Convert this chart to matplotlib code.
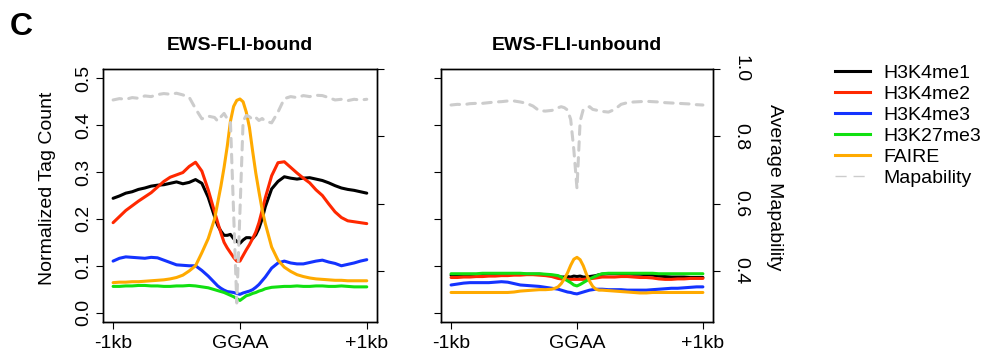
import matplotlib
matplotlib.use("Agg")
import matplotlib.pyplot as plt
from matplotlib.lines import Line2D

plt.rcParams['font.family'] = ['Liberation Sans', 'DejaVu Sans']

# 태그 위치 (GGAA 기준, bp)
positions = [-1000, -950, -900, -850, -800, -750, -700, -650, -600, -550, -500, -450, -400, -350, -300, -250, -200,
             -175, -150, -125, -100, -75, -50, -25, 0, 25, 50, 75, 100, 125, 150, 175,
             200, 250, 300, 350, 400, 450, 500, 550, 600, 650, 700, 750, 800, 850, 900, 950, 1000]

x_ticks = [-1000, 0, 1000]
x_ticklabels = ['-1kb', 'GGAA', '+1kb']
tag_ticks = [0.0, 0.1, 0.2, 0.3, 0.4, 0.5]
map_ticks = [0.4, 0.6, 0.8, 1.0]

series_names = ['H3K4me1', 'H3K4me2', 'H3K4me3', 'H3K27me3', 'FAIRE']
series_colors = ['black', '#ff2800', '#1433ff', '#11e011', '#ffaa00']
panel_titles = ['EWS-FLI-bound', 'EWS-FLI-unbound']

# EWS-FLI-bound
bound_me1 = [0.244, 0.249, 0.255, 0.258, 0.263, 0.266, 0.270, 0.272, 0.273, 0.276, 0.279, 0.275, 0.278, 0.284, 0.276, 0.246, 0.205,
             0.186, 0.174, 0.165, 0.165, 0.167, 0.158, 0.152, 0.148, 0.155, 0.160, 0.160, 0.158, 0.166, 0.180, 0.200,
             0.226, 0.264, 0.280, 0.290, 0.287, 0.285, 0.287, 0.288, 0.285, 0.282, 0.277, 0.271, 0.266, 0.263, 0.261, 0.258, 0.255]
bound_me2 = [0.192, 0.205, 0.218, 0.228, 0.238, 0.247, 0.256, 0.268, 0.280, 0.289, 0.294, 0.299, 0.312, 0.321, 0.302, 0.262, 0.215,
             0.192, 0.170, 0.150, 0.138, 0.128, 0.118, 0.110, 0.110, 0.122, 0.134, 0.145, 0.158, 0.172, 0.192, 0.218,
             0.245, 0.292, 0.320, 0.322, 0.310, 0.298, 0.287, 0.277, 0.262, 0.250, 0.232, 0.215, 0.203, 0.196, 0.194, 0.192, 0.190]
bound_me3 = [0.110, 0.116, 0.119, 0.118, 0.117, 0.116, 0.118, 0.117, 0.112, 0.107, 0.102, 0.101, 0.100, 0.100, 0.090, 0.078, 0.064,
             0.057, 0.052, 0.048, 0.045, 0.044, 0.043, 0.041, 0.039, 0.042, 0.044, 0.046, 0.049, 0.054, 0.060, 0.068,
             0.076, 0.095, 0.106, 0.110, 0.106, 0.104, 0.104, 0.107, 0.110, 0.112, 0.108, 0.105, 0.100, 0.103, 0.106, 0.110, 0.113]
bound_k27 = [0.056, 0.056, 0.057, 0.057, 0.058, 0.058, 0.057, 0.057, 0.056, 0.056, 0.057, 0.057, 0.058, 0.057, 0.055, 0.053, 0.049,
             0.047, 0.045, 0.043, 0.040, 0.037, 0.034, 0.030, 0.026, 0.031, 0.036, 0.038, 0.041, 0.043, 0.046, 0.048,
             0.051, 0.054, 0.055, 0.056, 0.056, 0.057, 0.056, 0.056, 0.057, 0.057, 0.056, 0.056, 0.057, 0.056, 0.055, 0.055, 0.055]
bound_faire = [0.064, 0.065, 0.065, 0.066, 0.066, 0.067, 0.068, 0.069, 0.070, 0.072, 0.075, 0.080, 0.089, 0.100, 0.128, 0.158, 0.200,
               0.235, 0.270, 0.310, 0.355, 0.408, 0.440, 0.453, 0.456, 0.450, 0.428, 0.395, 0.345, 0.298, 0.258, 0.220,
               0.190, 0.140, 0.112, 0.097, 0.088, 0.081, 0.077, 0.074, 0.072, 0.071, 0.070, 0.069, 0.069, 0.068, 0.068, 0.068, 0.068]
bound_map = [0.908, 0.912, 0.910, 0.915, 0.913, 0.920, 0.918, 0.924, 0.927, 0.925, 0.928, 0.923, 0.916, 0.882, 0.852, 0.860, 0.856,
             0.845, 0.858, 0.868, 0.852, 0.845, 0.575, 0.305, 0.575, 0.845, 0.862, 0.858, 0.850, 0.856, 0.847, 0.853,
             0.845, 0.840, 0.872, 0.912, 0.918, 0.915, 0.921, 0.918, 0.922, 0.921, 0.915, 0.908, 0.910, 0.906, 0.910, 0.908, 0.910]

# EWS-FLI-unbound
unbound_me1 = [0.080, 0.080, 0.080, 0.081, 0.081, 0.081, 0.081, 0.082, 0.082, 0.082, 0.082, 0.082, 0.082, 0.082, 0.082, 0.081, 0.079,
               0.078, 0.077, 0.076, 0.076, 0.077, 0.076, 0.078, 0.077, 0.078, 0.076, 0.076, 0.077, 0.078, 0.079, 0.081,
               0.082, 0.083, 0.083, 0.083, 0.083, 0.082, 0.082, 0.081, 0.080, 0.078, 0.077, 0.076, 0.076, 0.076, 0.075, 0.075, 0.075]
unbound_me2 = [0.075, 0.075, 0.076, 0.076, 0.077, 0.077, 0.078, 0.078, 0.079, 0.079, 0.080, 0.080, 0.081, 0.081, 0.080, 0.079, 0.077,
               0.075, 0.073, 0.072, 0.071, 0.071, 0.071, 0.071, 0.071, 0.071, 0.071, 0.072, 0.072, 0.073, 0.074, 0.075,
               0.076, 0.076, 0.076, 0.077, 0.077, 0.076, 0.075, 0.075, 0.074, 0.072, 0.071, 0.071, 0.072, 0.072, 0.073, 0.073, 0.073]
unbound_me3 = [0.059, 0.061, 0.063, 0.064, 0.064, 0.064, 0.064, 0.065, 0.066, 0.065, 0.062, 0.059, 0.058, 0.057, 0.056, 0.054, 0.052,
               0.051, 0.050, 0.048, 0.046, 0.044, 0.043, 0.041, 0.040, 0.042, 0.044, 0.046, 0.048, 0.049, 0.050, 0.050,
               0.050, 0.049, 0.049, 0.049, 0.048, 0.048, 0.048, 0.048, 0.049, 0.050, 0.051, 0.052, 0.052, 0.053, 0.054, 0.055, 0.055]
unbound_k27 = [0.083, 0.083, 0.083, 0.083, 0.083, 0.084, 0.084, 0.084, 0.084, 0.084, 0.084, 0.084, 0.083, 0.083, 0.083, 0.082, 0.081,
               0.080, 0.079, 0.076, 0.072, 0.068, 0.064, 0.059, 0.057, 0.060, 0.064, 0.068, 0.072, 0.075, 0.078, 0.081,
               0.083, 0.084, 0.084, 0.084, 0.084, 0.084, 0.084, 0.084, 0.084, 0.083, 0.083, 0.083, 0.083, 0.083, 0.083, 0.083, 0.083]
unbound_faire = [0.043, 0.043, 0.043, 0.043, 0.043, 0.043, 0.043, 0.043, 0.043, 0.043, 0.044, 0.046, 0.047, 0.048, 0.049, 0.049, 0.050,
                 0.052, 0.055, 0.062, 0.072, 0.085, 0.101, 0.114, 0.118, 0.113, 0.100, 0.082, 0.067, 0.056, 0.050, 0.048,
                 0.048, 0.047, 0.046, 0.045, 0.044, 0.043, 0.042, 0.042, 0.043, 0.043, 0.043, 0.043, 0.043, 0.043, 0.043, 0.043, 0.043]
unbound_map = [0.893, 0.895, 0.894, 0.897, 0.898, 0.898, 0.900, 0.902, 0.903, 0.905, 0.905, 0.902, 0.898, 0.890, 0.876, 0.875, 0.877,
               0.880, 0.885, 0.888, 0.885, 0.878, 0.850, 0.760, 0.645, 0.845, 0.880, 0.885, 0.888, 0.880, 0.878, 0.876,
               0.874, 0.872, 0.880, 0.895, 0.900, 0.902, 0.903, 0.904, 0.903, 0.902, 0.900, 0.899, 0.898, 0.897, 0.896, 0.894, 0.893]

panels = [
    ([bound_me1, bound_me2, bound_me3, bound_k27, bound_faire], bound_map),
    ([unbound_me1, unbound_me2, unbound_me3, unbound_k27, unbound_faire], unbound_map),
]

map_color = '#cccccc'
fs = 14

fig = plt.figure(figsize=(9.89, 3.56), dpi=100)
axes_pos = [[0.1041, 0.0955, 0.2770, 0.7107], [0.4459, 0.0955, 0.2750, 0.7107]]

for i, (tags, mapab) in enumerate(panels):
    ax = fig.add_axes(axes_pos[i])
    for vals, col in zip(tags, series_colors):
        ax.plot(positions, vals, color=col, lw=2.2, solid_capstyle='round')
    ax.set_xlim(-1080, 1080)
    ax.set_ylim(-0.02, 0.52)
    ax.set_xticks(x_ticks)
    ax.set_xticklabels(x_ticklabels, fontsize=fs)
    ax.set_yticks(tag_ticks)
    ax.tick_params(axis='both', direction='out', length=5, width=0.8)
    ax.tick_params(axis='x', pad=4)
    if i == 0:
        ax.set_yticklabels(['%.1f' % t for t in tag_ticks], fontsize=fs, rotation=90, va='center')
        ax.tick_params(axis='y', pad=3)
    else:
        ax.set_yticklabels([])
    for s in ax.spines.values():
        s.set_linewidth(1.0)
    ax.set_title(panel_titles[i], fontsize=fs, fontweight='bold', pad=14)

    ax2 = ax.twinx()
    ax2.plot(positions, mapab, color=map_color, lw=2.2, dashes=(2.8, 2.4), dash_capstyle='round')
    ax2.set_ylim(0.2485, 1.0)
    ax2.set_yticks(map_ticks)
    ax2.tick_params(axis='y', direction='out', length=5, width=0.8)
    if i == 1:
        ax2.set_yticklabels(['%.1f' % t for t in map_ticks], fontsize=fs, rotation=270, va='center')
        ax2.tick_params(axis='y', pad=9)
    else:
        ax2.set_yticklabels([])
    for s in ax2.spines.values():
        s.set_linewidth(1.0)

fig.text(48 / 989, 1 - 188 / 356, 'Normalized Tag Count', rotation=90, fontsize=fs, ha='center', va='center')
fig.text(775 / 989, 1 - 187 / 356, 'Average Mapability', rotation=270, fontsize=fs, ha='center', va='center')
fig.text(0.01, 0.965, 'C', fontsize=23, fontweight='bold', ha='left', va='top')

handles = [Line2D([], [], color=c, lw=2.2) for c in series_colors]
handles.append(Line2D([], [], color=map_color, lw=1.0, dashes=(8, 5)))
fig.legend(handles, series_names + ['Mapability'], loc='upper left', bbox_to_anchor=(0.844, 0.82),
           frameon=False, fontsize=fs, handlelength=1.8, handletextpad=0.7, labelspacing=0.18,
           borderpad=0, borderaxespad=0)

fig.savefig('out.png', dpi=100)
